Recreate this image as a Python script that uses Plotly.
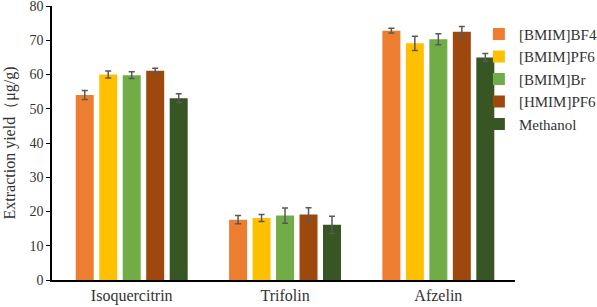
import plotly.graph_objects as go

categories = ["Isoquercitrin", "Trifolin", "Afzelin"]
series_names = ["[BMIM]BF4", "[BMIM]PF6", "[BMIM]Br", "[HMIM]PF6", "Methanol"]
bmim_bf4 = [54.0, 17.6, 72.8]
bmim_pf6 = [60.0, 18.1, 69.1]
bmim_br = [59.8, 18.8, 70.3]
hmim_pf6 = [61.1, 19.1, 72.5]
methanol = [53.1, 16.1, 65.0]
err_bmim_bf4 = [1.3, 1.2, 0.7]
err_bmim_pf6 = [1.0, 1.0, 2.1]
err_bmim_br = [1.0, 2.2, 1.6]
err_hmim_pf6 = [0.7, 2.0, 1.5]
err_methanol = [1.3, 2.5, 1.1]
colors = ["#ED7D31", "#FFC000", "#70AD47", "#9E480E", "#375623"]

values = [bmim_bf4, bmim_pf6, bmim_br, hmim_pf6, methanol]
errors = [err_bmim_bf4, err_bmim_pf6, err_bmim_br, err_hmim_pf6, err_methanol]

FONT = "Liberation Serif, Times New Roman, serif"
TXT = "#333333"

fig = go.Figure()
for i, name in enumerate(series_names):
    fig.add_trace(go.Bar(
        x=categories, y=values[i], name=name, legendgroup=name,
        marker=dict(color=colors[i], line=dict(width=0)),
        error_y=dict(type="data", array=errors[i], visible=True,
                     color="#595959", thickness=1.5, width=3),
    ))

fig.update_layout(
    width=597, height=307,
    margin=dict(l=52, r=82, t=6, b=27, autoexpand=False),
    paper_bgcolor="white", plot_bgcolor="white",
    barmode="group", bargap=0.234, bargroupgap=0.234,
    font=dict(family=FONT, size=14, color=TXT),
    showlegend=True,
    legend=dict(x=0.922, y=0.957, xanchor="left", yanchor="top",
                font=dict(family=FONT, size=15, color=TXT),
                tracegroupgap=0, itemwidth=30,
                bgcolor="rgba(0,0,0,0)"),
    xaxis=dict(range=[-0.52, 2.5], showline=True, linecolor="black", linewidth=1.5,
               automargin=False, ticks="",
               tickfont=dict(family=FONT, size=16, color=TXT), showgrid=False),
    yaxis=dict(range=[0, 80], dtick=10, showline=True, linecolor="black",
               linewidth=1.5, ticks="outside", ticklen=4, tickcolor="black",
               automargin=False, ticklabeloverflow="allow",
               showgrid=False, zeroline=False,
               tickfont=dict(family=FONT, size=14, color=TXT),
               title=dict(text="Extraction yield（μg/g)",
                          font=dict(family=FONT, size=16, color=TXT), standoff=10)),
)

fig.write_html("out.html",
               config={"displayModeBar": False},
               post_script="document.body.style.margin='0';document.body.style.padding='0';")
